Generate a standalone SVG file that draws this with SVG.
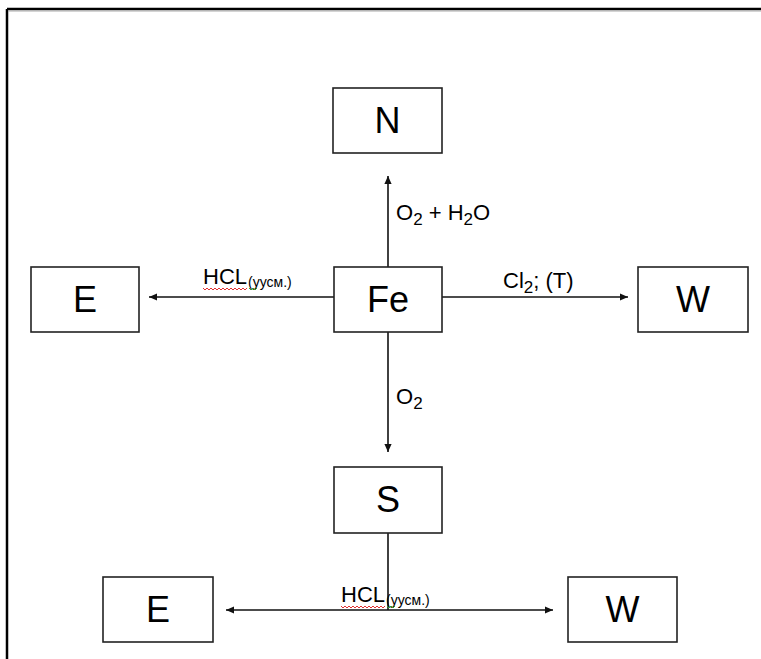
<svg xmlns="http://www.w3.org/2000/svg" width="761" height="659" viewBox="0 0 761 659">
<style>
.box{fill:#fff;stroke:#222;stroke-width:1.6}
.big{font-family:"Liberation Sans",Arial,sans-serif;font-size:36px;fill:#000;text-anchor:middle}
.lbl{font-family:"Liberation Sans",Arial,sans-serif;font-size:22px;fill:#000}
.sub{font-size:17px}
.sm{font-family:"Liberation Sans",Arial,sans-serif;font-size:14px;fill:#000}
.ln{stroke:#111;stroke-width:1.6;fill:none}
.wr{stroke:#e03030;stroke-width:1;fill:none}
.wg{stroke:#30a030;stroke-width:1;fill:none}
</style>
<defs>
<marker id="ah" viewBox="0 0 10 10" refX="10" refY="5" markerWidth="9" markerHeight="8" orient="auto-start-reverse" markerUnits="userSpaceOnUse">
<path d="M0,0.5 L10,5 L0,9.5 Z" fill="#111"/>
</marker>
</defs>
<rect width="761" height="659" fill="#fff"/>
<g id="frame">
<line x1="7" y1="9" x2="761" y2="9" stroke="#000" stroke-width="2.5"/>
<line x1="7" y1="9" x2="7" y2="659" stroke="#000" stroke-width="2.5"/>
<line x1="8" y1="11" x2="761" y2="11" stroke="#aaa" stroke-width="1"/>
</g>
<g id="connectors">
<line class="ln" x1="388" y1="267" x2="388" y2="176" marker-end="url(#ah)"/>
<line class="ln" x1="388" y1="332" x2="388" y2="452" marker-end="url(#ah)"/>
<line class="ln" x1="334" y1="297" x2="149" y2="297" marker-end="url(#ah)"/>
<line class="ln" x1="442" y1="297" x2="628" y2="297" marker-end="url(#ah)"/>
<line class="ln" x1="388" y1="533" x2="388" y2="610"/>
<line class="ln" x1="226" y1="610" x2="553" y2="610" marker-start="url(#ah)" marker-end="url(#ah)"/>
</g>
<g id="labels">
<text class="lbl" x="396" y="220">O<tspan class="sub" dy="5">2</tspan><tspan dy="-5"> + H</tspan><tspan class="sub" dy="5">2</tspan><tspan dy="-5">O</tspan></text>
<text class="lbl" x="396" y="404">O<tspan class="sub" dy="5">2</tspan></text>
<text class="lbl" x="503" y="288">Cl<tspan class="sub" dy="5">2</tspan><tspan dy="-5">; (T)</tspan></text>
<text class="lbl" x="203" y="284">HCL<tspan class="sm" dx="1" dy="3">(уусм.)</tspan></text>
<path class="wr" d="M203,288 l2,2 l2,-2 l2,2 l2,-2 l2,2 l2,-2 l2,2 l2,-2 l2,2 l2,-2 l2,2 l2,-2 l2,2 l2,-2 l2,2 l2,-2 l2,2 l2,-2 l2,2 l2,-2 l2,2 l2,-2"/>
<path class="wg" d="M249,288 l2,2 l2,-2 l2,2 l2,-2"/>
<text class="lbl" x="341" y="602">HCL<tspan class="sm" dx="1" dy="3">(уусм.)</tspan></text>
<path class="wr" d="M341,606 l2,2 l2,-2 l2,2 l2,-2 l2,2 l2,-2 l2,2 l2,-2 l2,2 l2,-2 l2,2 l2,-2 l2,2 l2,-2 l2,2 l2,-2 l2,2 l2,-2 l2,2 l2,-2 l2,2 l2,-2"/>
<path class="wg" d="M387,606 l2,2 l2,-2 l2,2 l2,-2"/>
</g>
<g id="node-N"><rect class="box" x="333" y="88" width="109" height="65"/><text class="big" x="387.5" y="133">N</text></g>
<g id="node-E1"><rect class="box" x="31" y="267" width="108" height="65"/><text class="big" x="85" y="312">E</text></g>
<g id="node-Fe"><rect class="box" x="334" y="267" width="108" height="65"/><text class="big" x="388" y="312">Fe</text></g>
<g id="node-W1"><rect class="box" x="638" y="267" width="110" height="65"/><text class="big" x="693" y="312">W</text></g>
<g id="node-S"><rect class="box" x="334" y="467" width="108" height="66"/><text class="big" x="388" y="512">S</text></g>
<g id="node-E2"><rect class="box" x="103" y="577" width="110" height="65"/><text class="big" x="158" y="622">E</text></g>
<g id="node-W2"><rect class="box" x="568" y="577" width="109" height="65"/><text class="big" x="622.5" y="622">W</text></g>
</svg>
